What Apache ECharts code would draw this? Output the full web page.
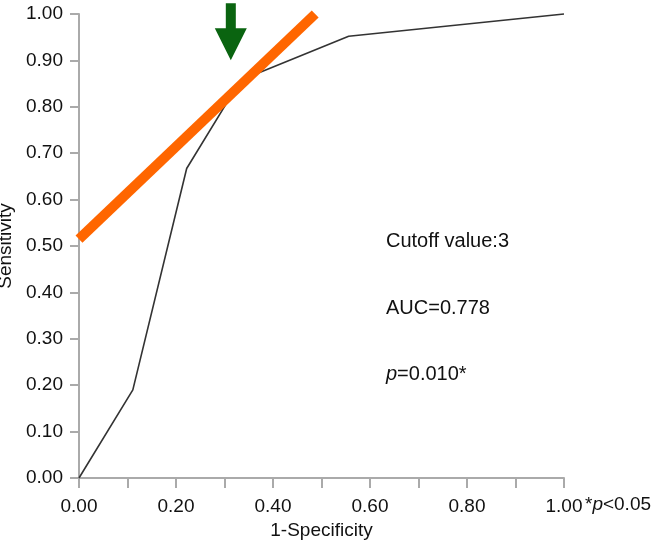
<!DOCTYPE html>
<html>
<head>
<meta charset="utf-8">
<script src="https://cdn.jsdelivr.net/npm/echarts@6/dist/echarts.min.js"></script>
<style>html,body{margin:0;padding:0;background:#fff}#c{width:657px;height:544px}</style>
</head>
<body>
<div id="c"></div>
<script>
// ROC curve (1-Specificity vs Sensitivity)
const fpr = [0, 0.111, 0.222, 0.333, 0.556, 1.0];
const sensitivity = [0, 0.19, 0.667, 0.857, 0.952, 1.0];
// Orange tangent line (cutoff line)
const cutLineX = [0, 0.487];
const cutLineY = [0.515, 1.0];
// Green arrow marking the cutoff point
const arrowX = [0.313];
const arrowY = [0.962];
const annotations = ['Cutoff value:3', 'AUC=0.778', 'p=0.010*'];

const FONT = '"Liberation Sans", Arial, sans-serif';
const chart = echarts.init(document.getElementById('c'), null, {renderer: 'canvas'});
const axisLine = {show: true, lineStyle: {color: '#aaa', width: 2}};

chart.setOption({
  animation: false,
  backgroundColor: '#fff',
  grid: {left: 79, right: 93, top: 14, bottom: 66, containLabel: false, outerBoundsMode: 'none'},
  xAxis: {
    type: 'value', min: 0, max: 1, interval: 0.1,
    name: '1-Specificity', nameLocation: 'middle', nameGap: 38,
    nameTextStyle: {fontFamily: FONT, fontSize: 19, color: '#111'},
    axisLine: axisLine,
    axisTick: {show: true, length: 10, lineStyle: {color: '#aaa', width: 2}},
    axisLabel: {
      margin: 19, fontFamily: FONT, fontSize: 19, color: '#111',
      formatter: v => (Math.round(v * 10) % 2 === 0 ? v.toFixed(2) : '')
    },
    splitLine: {show: false}
  },
  yAxis: {
    type: 'value', min: 0, max: 1, interval: 0.1,
    name: 'Sensitivity', nameLocation: 'middle', nameGap: 59,
    nameTextStyle: {fontFamily: FONT, fontSize: 19, color: '#111'},
    axisLine: axisLine,
    axisTick: {show: true, length: 9, lineStyle: {color: '#aaa', width: 2}},
    axisLabel: {margin: 16, fontFamily: FONT, fontSize: 19, color: '#111', formatter: v => v.toFixed(2)},
    splitLine: {show: false}
  },
  series: [
    {
      type: 'line', data: fpr.map((x, i) => [x, sensitivity[i]]),
      symbol: 'none', lineStyle: {color: '#333', width: 1.6}, clip: false, z: 2
    },
    {
      type: 'line', data: cutLineX.map((x, i) => [x, cutLineY[i]]),
      symbol: 'none', lineStyle: {color: '#ff6600', width: 10, cap: 'butt'}, clip: false, z: 3
    },
    {
      type: 'scatter', data: arrowX.map((x, i) => [x, arrowY[i]]),
      symbol: 'path://M11,0 L21,0 L21,25 L32,25 L16,57 L0,25 L11,25 Z',
      symbolSize: [32, 57], itemStyle: {color: '#0a6410', opacity: 1}, clip: false, z: 4
    }
  ],
  graphic: [
    {type: 'text', x: 386, y: 241, style: {text: annotations[0], font: '20px ' + FONT, fill: '#111', verticalAlign: 'middle'}},
    {type: 'text', x: 386, y: 308, style: {text: annotations[1], font: '20px ' + FONT, fill: '#111', verticalAlign: 'middle'}},
    {type: 'text', x: 386, y: 374, style: {
      text: '{i|p}{n|=0.010*}', verticalAlign: 'middle', fill: '#111',
      rich: {i: {fontStyle: 'italic', fontSize: 20, fontFamily: FONT, fill: '#111'}, n: {fontSize: 20, fontFamily: FONT, fill: '#111'}}
    }},
    {type: 'text', x: 585, y: 505, style: {
      text: '{n|*}{i|p}{n|<0.05}', verticalAlign: 'middle', fill: '#111',
      rich: {i: {fontStyle: 'italic', fontSize: 19, fontFamily: FONT, fill: '#111'}, n: {fontSize: 19, fontFamily: FONT, fill: '#111'}}
    }}
  ]
});
</script>
</body>
</html>
